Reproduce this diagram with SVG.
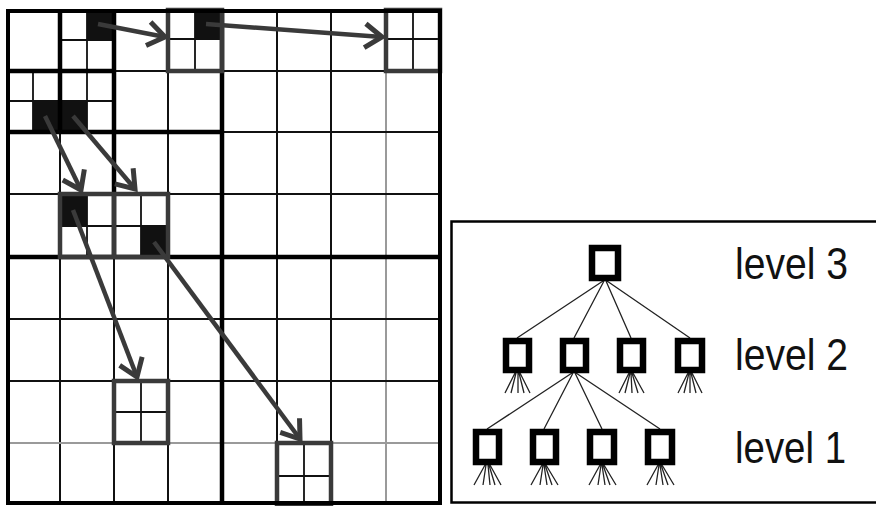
<svg xmlns="http://www.w3.org/2000/svg" width="876" height="506" viewBox="0 0 876 506">
<style>
.thin{stroke:#111;stroke-width:2;fill:none}
.gray{stroke:#9a9a9a;stroke-width:2;fill:none}
.thick{stroke:#000;stroke-width:4.5;fill:none}
.sub{stroke:#111;stroke-width:1.8;fill:none}
.blk{fill:#111}
.box{stroke:#3a3a3a;stroke-width:4.5;fill:none}
.arrow{stroke:#3a3a3a;stroke-width:4.5;fill:none;marker-end:url(#ah)}
.node{fill:#fff;stroke:#000;stroke-width:6.5}
.edge{stroke:#222;stroke-width:1.3;fill:none}
.lbl{font-family:"Liberation Sans",Arial,sans-serif;font-size:45px;fill:#111}
</style>
<defs>
<marker id="ah" markerUnits="userSpaceOnUse" markerWidth="30" markerHeight="28" viewBox="0 0 30 28" refX="22" refY="14" orient="auto" overflow="visible">
<path d="M5,2 L22,14 L5,26" fill="none" stroke="#3a3a3a" stroke-width="5"/>
</marker>
</defs>
<rect width="876" height="506" fill="#fff"/>

<g id="grid">
<path class="thin" d="M60,10V504M114,10V504M168,10V504M277,10V504M331,10V504"/>
<path class="gray" d="M386,71V504"/>
<path class="thin" d="M386,10V71"/>
<path class="thin" d="M7,71H440M7,132H440M7,194H440M7,319H440M7,381H440"/>
<path class="gray" d="M7,443H440"/>
</g>

<g id="cell-a">
<rect class="blk" x="87" y="10" width="27" height="30"/>
<path class="sub" d="M87,10V71M60,40H114"/>
</g>
<g id="cell-b">
<rect class="blk" x="33" y="101" width="27" height="31"/>
<path class="sub" d="M33,71V132M7,101H60"/>
</g>
<g id="cell-c">
<rect class="blk" x="60" y="101" width="27" height="31"/>
<path class="sub" d="M87,71V132M60,101H114"/>
</g>

<g id="quadtree-lines">
<path class="thick" d="M222,10V504M7,257H440M114,10V257M7,132H222M60,10V132M7,71H114"/>
</g>

<g id="box-1">
<rect class="blk" x="195" y="10" width="27" height="29"/>
<path class="sub" d="M195,10V71M168,39H222"/>
<rect class="box" x="168" y="10" width="54" height="61"/>
</g>
<g id="box-2">
<path class="sub" d="M413,10V71M386,39H440"/>
<rect class="box" x="386" y="10" width="54" height="61"/>
</g>
<g id="box-3">
<rect class="blk" x="60" y="194" width="27" height="32"/>
<rect class="blk" x="141" y="226" width="27" height="31"/>
<path class="sub" d="M87,194V257M141,194V257M60,226H168"/>
<rect class="box" x="60" y="194" width="108" height="63"/>
<path class="box" d="M114,194V257"/>
</g>
<g id="box-4">
<path class="sub" d="M141,381V443M114,412H168"/>
<rect class="box" x="114" y="381" width="54" height="62"/>
</g>
<g id="box-5">
<path class="sub" d="M304,443V504M277,476H331"/>
<rect class="box" x="277" y="443" width="54" height="61"/>
</g>

<rect id="border" x="8" y="11" width="432" height="492" fill="none" stroke="#000" stroke-width="4"/>

<g id="connectors">
<path class="arrow" d="M98,24L165,37"/>
<path class="arrow" d="M206,24L382,37"/>
<path class="arrow" d="M45,116L81,190"/>
<path class="arrow" d="M73,116L135,189"/>
<path class="arrow" d="M73,210L137,377"/>
<path class="arrow" d="M154,242L300,439"/>
</g>

<rect id="panel" x="451.5" y="221.5" width="430" height="281" fill="none" stroke="#000" stroke-width="2.5"/>

<g id="tree-edges">
<path class="edge" d="M603,281L517,338M604,281L574,338M606,281L631,338M607,281L690,338"/>
<path class="edge" d="M572,373L487,429M573,373L544,429M575,373L602,429M576,373L660,429"/>
<path class="edge" d="M515,373L505,393M516,373L511,393M518,373L518,393M519,373L524,393M520,373L530,393"/>
<path class="edge" d="M629,373L619,393M630,373L625,393M631,373L632,393M632,373L638,393M633,373L644,393"/>
<path class="edge" d="M688,373L678,393M689,373L684,393M690,373L690,393M691,373L696,393M692,373L702,393"/>
<path class="edge" d="M485,465L474,485M486,465L483,485M488,465L490,485M489,465L495,485M490,465L501,485"/>
<path class="edge" d="M542,465L531,485M543,465L540,485M544,465L547,485M545,465L552,485M546,465L558,485"/>
<path class="edge" d="M600,465L589,485M601,465L598,485M602,465L605,485M603,465L610,485M604,465L616,485"/>
<path class="edge" d="M658,465L647,485M659,465L656,485M660,465L663,485M661,465L668,485M662,465L674,485"/>
</g>

<g id="node-l3"><rect class="node" x="592" y="248" width="26" height="30"/></g>
<g id="node-l2-1"><rect class="node" x="506" y="341" width="23" height="29"/></g>
<g id="node-l2-2"><rect class="node" x="563" y="341" width="23" height="29"/></g>
<g id="node-l2-3"><rect class="node" x="620" y="341" width="23" height="29"/></g>
<g id="node-l2-4"><rect class="node" x="678" y="341" width="24" height="29"/></g>
<g id="node-l1-1"><rect class="node" x="476" y="432" width="23" height="30"/></g>
<g id="node-l1-2"><rect class="node" x="533" y="432" width="23" height="30"/></g>
<g id="node-l1-3"><rect class="node" x="590" y="432" width="24" height="30"/></g>
<g id="node-l1-4"><rect class="node" x="648" y="432" width="24" height="30"/></g>

<g id="labels">
<text class="lbl" x="735" y="279" textLength="113" lengthAdjust="spacingAndGlyphs">level 3</text>
<text class="lbl" x="735" y="370" textLength="113" lengthAdjust="spacingAndGlyphs">level 2</text>
<text class="lbl" x="735" y="463" textLength="111" lengthAdjust="spacingAndGlyphs">level 1</text>
</g>
</svg>
